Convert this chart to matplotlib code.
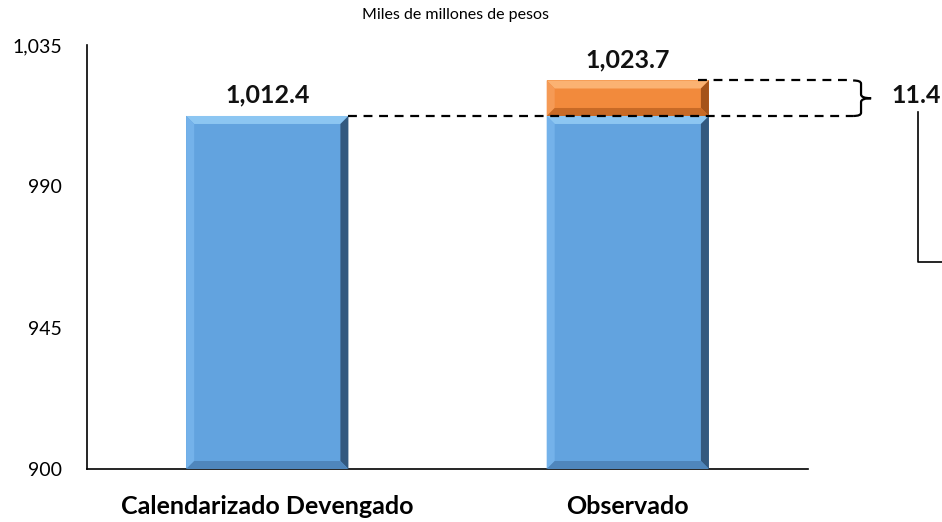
import matplotlib
matplotlib.use("Agg")
import matplotlib.pyplot as plt
from matplotlib.patches import Polygon, PathPatch
from matplotlib.path import Path

plt.rcParams['font.family'] = ['Lato', 'DejaVu Sans']

categories = ["Calendarizado Devengado", "Observado"]
base_values = [1012.4, 1012.4]
extra_values = [0.0, 11.3]
total_labels = ["1,012.4", "1,023.7"]
diff_label = "11.4"
yticks = [900, 945, 990, 1035]
ytick_labels = ["900", "945", "990", "1,035"]
title = "Miles de millones de pesos"

fig = plt.figure(figsize=(9.42, 5.22), dpi=100)
ax = fig.add_axes([0.0924, 0.1015, 0.7654, 0.8123])
ax.set_xlim(-0.5, 1.5)
ax.set_ylim(900, 1035)

width = 0.45
# bevel size in data units (approx 8 px)
bx = 8 / 721 * 2
by = 8 / 424 * 135


def bevel_bar(x, bottom, top, face, light, lighter, dark, darker):
    l, r = x - width / 2, x + width / 2
    b, t = bottom, top
    ax.bar(x, top - bottom, width, bottom=bottom, color=face, zorder=2)
    bxx = min(bx, (r - l) / 2)
    byy = min(by, (t - b) / 2)
    polys = [
        ([(l, t), (r, t), (r - bxx, t - byy), (l + bxx, t - byy)], lighter),
        ([(l, b), (l, t), (l + bxx, t - byy), (l + bxx, b + byy)], light),
        ([(r, b), (r, t), (r - bxx, t - byy), (r - bxx, b + byy)], darker),
        ([(l, b), (r, b), (r - bxx, b + byy), (l + bxx, b + byy)], dark),
    ]
    for pts, c in polys:
        ax.add_patch(Polygon(pts, closed=True, facecolor=c, edgecolor='none', zorder=3))


for i, (bv, ev) in enumerate(zip(base_values, extra_values)):
    bevel_bar(i, 900, bv, '#62A3DF', '#74B2EA', '#8CC6F2', '#4F86BC', '#33597F')
    if ev > 0:
        bevel_bar(i, bv, bv + ev, '#F28A3C', '#F59A55', '#FBB272', '#C86A26', '#A5531A')

totals = [b + e for b, e in zip(base_values, extra_values)]
for i, (tv, lab) in enumerate(zip(totals, total_labels)):
    ax.annotate(lab, (i, tv), xytext=(0, 9.5), textcoords='offset points',
                ha='center', va='baseline', fontsize=18, fontweight='bold', color='#111111')

# dashed reference lines
brace_x = 1.625
ax.plot([width / 2, brace_x], [base_values[0], base_values[0]],
        ls=(0, (4, 3)), color='black', lw=1.6, zorder=4, clip_on=False)
ax.plot([1 + width / 2 - 0.03, brace_x], [totals[1], totals[1]],
        ls=(0, (4, 3)), color='black', lw=1.6, zorder=4, clip_on=False)

# curly brace
y0, y1 = base_values[1], totals[1]
ym = (y0 + y1) / 2
x0 = brace_x
xb = brace_x + 0.022
xt = brace_x + 0.050
verts = [(x0, y1), (xb, y1), (xb, y1 - 1.0),
         (xb, ym + 1.2), (xb, ym), (xt, ym),
         (xb, ym), (xb, ym - 1.2),
         (xb, y0 + 1.0), (xb, y0), (x0, y0)]
codes = [Path.MOVETO, Path.CURVE3, Path.CURVE3,
         Path.LINETO, Path.CURVE3, Path.CURVE3,
         Path.CURVE3, Path.CURVE3,
         Path.LINETO, Path.CURVE3, Path.CURVE3]
ax.add_patch(PathPatch(Path(verts, codes), facecolor='none', edgecolor='black',
                       lw=1.6, zorder=4, clip_on=False))

ax.text(1.730, ym + 1.0, diff_label, ha='left', va='center', fontsize=18,
        fontweight='bold', color='#111111', clip_on=False)

# connector line
ax.plot([1.805, 1.805, 1.90], [1013.7, 965.9, 965.9], color='black', lw=1.2,
        clip_on=False, zorder=4)

ax.set_xticks([0, 1])
ax.set_xticklabels(categories, fontsize=18, fontweight='bold')
ax.set_yticks(yticks)
ax.set_yticklabels(ytick_labels, fontsize=14)
ax.tick_params(axis='both', length=0)
ax.tick_params(axis='x', pad=19)
ax.tick_params(axis='y', pad=18)
for s in ['top', 'right']:
    ax.spines[s].set_visible(False)
for s in ['left', 'bottom']:
    ax.spines[s].set_linewidth(1.2)
    ax.spines[s].set_color('black')

fig.text(0.484, 0.972, title, ha='center', va='center', fontsize=11.5)

fig.savefig('out.png', dpi=100)
